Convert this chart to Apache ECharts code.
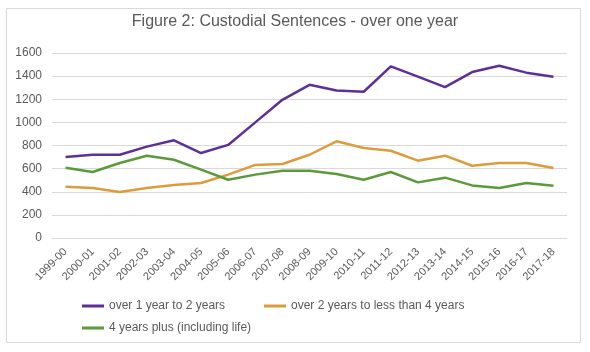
<!DOCTYPE html>
<html>
<head>
<meta charset="utf-8">
<script src="https://cdn.jsdelivr.net/npm/echarts@6/dist/echarts.min.js"></script>
<style>
  html, body { margin: 0; padding: 0; background: #fff; }
  #main { width: 590px; height: 352px; }
</style>
</head>
<body>
<div id="main"></div>
<script>
var years = ['1999-00', '2000-01', '2001-02', '2002-03', '2003-04', '2004-05', '2005-06',
    '2006-07', '2007-08', '2008-09', '2009-10', '2010-11', '2011-12', '2012-13',
    '2013-14', '2014-15', '2015-16', '2016-17', '2017-18'];

// over 1 year to 2 years
var oneToTwo = [700, 720, 720, 790, 845, 735, 805, 1000, 1195, 1325, 1275, 1265, 1485, 1395, 1305, 1435, 1490, 1430, 1395];
// over 2 years to less than 4 years
var twoToFour = [444, 432, 398, 432, 458, 476, 548, 632, 640, 720, 836, 778, 755, 669, 712, 625, 649, 649, 605];
// 4 years plus (including life)
var fourPlus = [608, 571, 649, 712, 677, 591, 504, 548, 582, 582, 553, 504, 571, 481, 522, 455, 432, 476, 452];

var myChart = echarts.init(document.getElementById('main'));

var txt = '#595959';
var font = 'Liberation Sans, Arial, sans-serif';

function legendAt(name, left, top) {
    return {
        data: [name],
        left: left,
        top: top,
        icon: 'rect',
        itemWidth: 22,
        itemHeight: 3,
        padding: 0,
        textStyle: { color: txt, fontSize: 12, fontFamily: font },
        selectedMode: false
    };
}

var option = {
    animation: false,
    backgroundColor: '#fff',
    title: {
        text: 'Figure 2: Custodial Sentences - over one year',
        left: 'center',
        top: 9,
        textStyle: { color: txt, fontSize: 16, fontWeight: 'normal', fontFamily: font }
    },
    graphic: [{
        type: 'rect',
        shape: { x: 6.5, y: 8.5, width: 574, height: 334 },
        style: { fill: 'none', stroke: '#d9d9d9', lineWidth: 1 },
        silent: true
    }],
    legend: [
        legendAt('over 1 year to 2 years', 82, 300),
        legendAt('over 2 years to less than 4 years', 264, 300),
        legendAt('4 years plus (including life)', 82, 322)
    ],
    grid: { left: 52, right: 23, top: 53, bottom: 114 },
    xAxis: {
        type: 'category',
        data: years,
        boundaryGap: true,
        axisLine: { lineStyle: { color: '#d9d9d9' } },
        axisTick: { show: false },
        axisLabel: { color: txt, fontSize: 11, fontFamily: font, rotate: 45, interval: 0, margin: 12 }
    },
    yAxis: {
        type: 'value',
        min: 0,
        max: 1600,
        interval: 200,
        axisLine: { show: false },
        axisTick: { show: false },
        axisLabel: {
            color: txt, fontSize: 12, fontFamily: font, margin: 10,
            formatter: function (v) { return String(v); }
        },
        splitLine: { lineStyle: { color: '#d9d9d9' } }
    },
    series: [{
        name: 'over 1 year to 2 years',
        type: 'line',
        data: oneToTwo,
        symbol: 'none',
        color: '#5f2f98',
        lineStyle: { width: 2.5 }
    }, {
        name: 'over 2 years to less than 4 years',
        type: 'line',
        data: twoToFour,
        symbol: 'none',
        color: '#dd9b3c',
        lineStyle: { width: 2.5 }
    }, {
        name: '4 years plus (including life)',
        type: 'line',
        data: fourPlus,
        symbol: 'none',
        color: '#5b9a3a',
        lineStyle: { width: 2.5 }
    }]
};
myChart.setOption(option);
</script>
</body>
</html>
